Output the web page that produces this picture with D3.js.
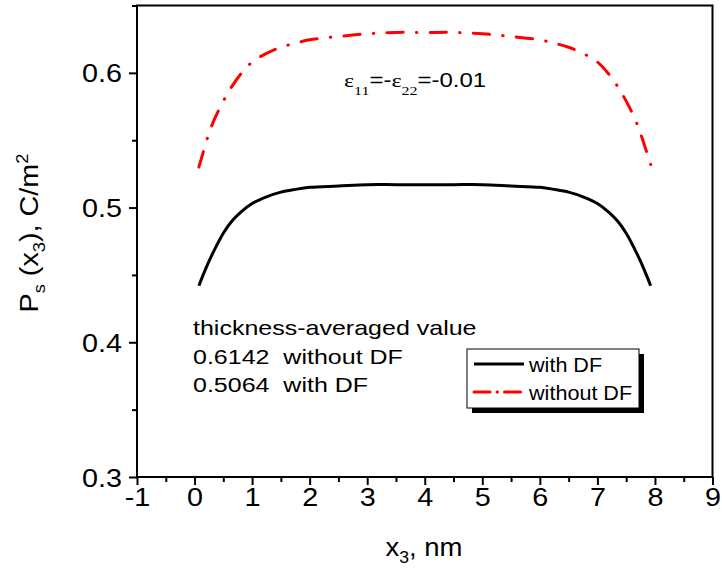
<!DOCTYPE html>
<html><head><meta charset="utf-8">
<script src="https://cdn.jsdelivr.net/npm/d3@7"></script>
<style>
body{margin:0;background:#fff}
svg{display:block}
text{font-family:"Liberation Sans",Arial,sans-serif;fill:#000}
</style></head><body>
<svg id="chart" width="722" height="571"></svg>
<script>
// positions across the film, nm
var xPos=[0.075,0.15,0.25,0.35,0.5,0.65,0.8,1.0,1.25,1.5,1.75,2.0,2.5,3.0,3.5,4.0,4.5,5.0,5.5,6.0,6.25,6.5,6.75,7.0,7.2,7.35,7.5,7.65,7.75,7.85,7.925];
var withDF=[0.442,0.450,0.460,0.469,0.481,0.490,0.4965,0.503,0.508,0.5115,0.5135,0.515,0.516,0.517,0.517,0.517,0.517,0.517,0.516,0.515,0.5135,0.5115,0.508,0.503,0.4965,0.490,0.481,0.469,0.460,0.450,0.442];
var withoutDF=[0.530,0.541,0.555,0.566,0.579,0.590,0.599,0.608,0.6145,0.619,0.622,0.6245,0.627,0.629,0.630,0.630,0.630,0.629,0.627,0.6245,0.622,0.619,0.6145,0.608,0.599,0.590,0.579,0.566,0.555,0.542,0.532];
var xMajor=[-1,0,1,2,3,4,5,6,7,8,9];
var xMinor=[-0.5,0.5,1.5,2.5,3.5,4.5,5.5,6.5,7.5,8.5];
var yMajor=[0.3,0.4,0.5,0.6];
var yMinor=[0.35,0.45,0.55,0.65];
var seriesNames=["with DF","without DF"];
var avgLines=["thickness-averaged value","0.6142  without DF","0.5064  with DF"];

var svg=d3.select("#chart");
var x=d3.scaleLinear().domain([-1,9]).range([137,712.5]);
var y=d3.scaleLinear().domain([0.3,0.65]).range([477,5.5]);
var sx=1.15;
var serif="Liberation Serif, Times New Roman, serif";

var line=d3.line().x(function(d){return x(d[0]);}).y(function(d){return y(d[1]);}).curve(d3.curveCatmullRom.alpha(0.5));

//curves
svg.append("path").datum(d3.zip(xPos,withDF))
	.attr("d",line).attr("fill","none").attr("stroke","#000").attr("stroke-width",3);
var red=svg.append("path").datum(d3.zip(xPos,withoutDF))
	.attr("d",line).attr("fill","none").attr("stroke","#ff0000").attr("stroke-width",3)
	.attr("stroke-linecap","round");
//stretch the dash-dot pattern a little so it starts on a dash and ends on a dot
var pat=[16,13,0.5,13];
var len=red.node().getTotalLength();
var n=Math.round((len-29.5)/42.5);
var f=len/(n*42.5+29.5);
red.attr("stroke-dasharray",pat.map(function(v){return v*f;}).join(","));

//frame
svg.append("rect").attr("x",x(-1)).attr("y",y(0.65)).attr("width",x(9)-x(-1)).attr("height",y(0.3)-y(0.65))
	.attr("fill","none").attr("stroke","#000").attr("stroke-width",2);

//x axis
var gx=svg.append("g").attr("transform","translate(0,"+y(0.3)+")");
gx.call(d3.axisBottom(x).tickValues(xMajor).tickSize(8).tickFormat(function(d){return String(d);}));
gx.append("g").call(d3.axisBottom(x).tickValues(xMinor).tickSize(5).tickFormat(""));
gx.selectAll(".domain").remove();
gx.selectAll("line").attr("stroke","#000").attr("stroke-width",2);
gx.selectAll("text").attr("y",29).attr("dy",0).attr("font-size",25).attr("font-family","Liberation Sans, Arial, sans-serif")
	.attr("fill","#000").attr("transform","scale("+sx+",1)");

//y axis
var gy=svg.append("g").attr("transform","translate("+x(-1)+",0)");
gy.call(d3.axisLeft(y).tickValues(yMajor).tickSize(8).tickFormat(d3.format(".1f")));
gy.append("g").call(d3.axisLeft(y).tickValues(yMinor).tickSize(5).tickFormat(""));
gy.selectAll(".domain").remove();
gy.selectAll("line").attr("stroke","#000").attr("stroke-width",2);
gy.selectAll("text").attr("x",-15/sx).attr("dy","0.36em").attr("font-size",25).attr("font-family","Liberation Sans, Arial, sans-serif")
	.attr("fill","#000").attr("transform","scale("+sx+",1)");

//axis titles
var xt=svg.append("text").attr("text-anchor","middle").attr("font-size",25)
	.attr("transform","translate(424,556) scale(1.1,1)");
xt.append("tspan").text("x");
xt.append("tspan").attr("font-size",16).attr("dy",7).text("3");
xt.append("tspan").attr("dy",-7).text(", nm");

var yt=svg.append("text").attr("text-anchor","middle").attr("font-size",25)
	.attr("transform","translate(38,233) rotate(-90) scale("+sx+",1)");
yt.append("tspan").text("P");
yt.append("tspan").attr("font-size",16).attr("dy",7).text("s");
yt.append("tspan").attr("dy",-7).text(" (x");
yt.append("tspan").attr("font-size",16).attr("dy",7).text("3");
yt.append("tspan").attr("dy",-7).text("), C/m");
yt.append("tspan").attr("font-size",16).attr("dy",-10).text("2");

//strain annotation
var ann=svg.append("text").attr("font-size",19.5).attr("transform","translate(344,87) scale(1.23,1)");
ann.append("tspan").attr("font-family",serif).text("ε");
ann.append("tspan").attr("font-family",serif).attr("font-size",13).attr("dy",8).text("11");
ann.append("tspan").attr("dy",-8).text("=-");
ann.append("tspan").attr("font-family",serif).text("ε");
ann.append("tspan").attr("font-family",serif).attr("font-size",13).attr("dy",8).text("22");
ann.append("tspan").attr("dy",-8).text("=-0.01");

//thickness-averaged values
svg.selectAll("text.avg").data(avgLines).enter().append("text").attr("class","avg")
	.attr("font-size",20.5).style("white-space","pre")
	.attr("transform",function(d,i){return "translate(193,"+(335+i*28.5)+") scale(1.22,1)";})
	.text(function(d){return d;});

//legend
var lg=svg.append("g");
lg.append("rect").attr("x",472).attr("y",354).attr("width",172).attr("height",59).attr("fill","#000");
lg.append("rect").attr("x",467).attr("y",349).attr("width",172).attr("height",59).attr("fill","#fff").attr("stroke","#000").attr("stroke-width",1);
var legY=[364,392];
var legStyle=[{c:"#000",dash:null},{c:"#ff0000",dash:"16,7,0.5,7"}];
seriesNames.forEach(function(name,i){
	var l=lg.append("line").attr("x1",474).attr("x2",524).attr("y1",legY[i]).attr("y2",legY[i])
		.attr("stroke",legStyle[i].c).attr("stroke-width",3);
	if(legStyle[i].dash){l.attr("stroke-dasharray",legStyle[i].dash).attr("stroke-linecap","round");}
	lg.append("text").attr("font-size",20).attr("transform","translate(529,"+(legY[i]+8)+") scale(1.08,1)").text(name);
});
</script>
</body></html>
